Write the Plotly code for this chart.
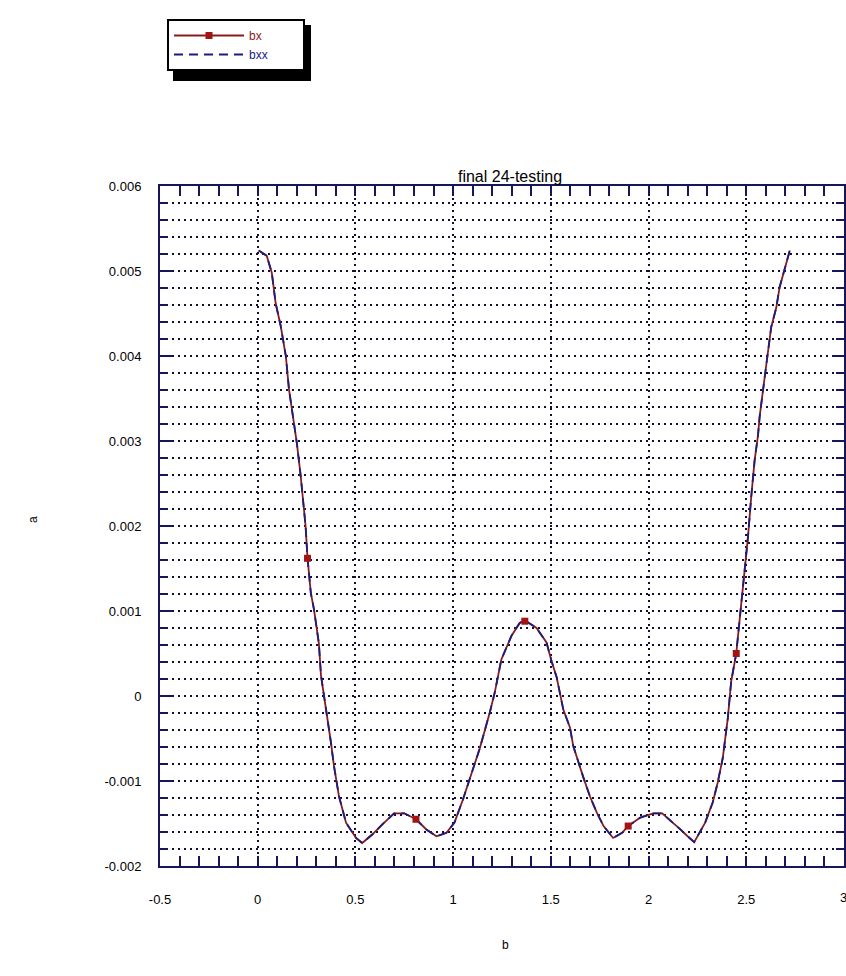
import plotly.graph_objects as go

# ---- data ----
x_vals = [0.005, 0.046, 0.072, 0.092, 0.118, 0.144, 0.16, 0.175, 0.20, 0.22, 0.245, 0.255,
          0.272, 0.288, 0.313, 0.324, 0.35, 0.375, 0.39, 0.416, 0.452, 0.503, 0.535, 0.586,
          0.638, 0.698, 0.75, 0.81, 0.863, 0.915, 0.966, 1.007, 1.05, 1.101, 1.136, 1.187,
          1.213, 1.247, 1.299, 1.341, 1.367, 1.427, 1.478, 1.504, 1.53, 1.564, 1.598, 1.615,
          1.64, 1.667, 1.70, 1.735, 1.77, 1.819, 1.865, 1.896, 1.958, 2.025, 2.07, 2.127,
          2.163, 2.20, 2.234, 2.29, 2.329, 2.354, 2.38, 2.406, 2.423, 2.449, 2.466, 2.491,
          2.509, 2.526, 2.543, 2.56, 2.569, 2.603, 2.628, 2.654, 2.671, 2.723]
y_vals = [0.00524, 0.00518, 0.00498, 0.00462, 0.00435, 0.00400, 0.00361, 0.00339, 0.00298,
          0.00259, 0.00200, 0.00162, 0.00121, 0.00102, 0.00062, 0.00024, -0.00015, -0.00055,
          -0.00082, -0.00118, -0.00149, -0.00167, -0.00173, -0.00163, -0.00151, -0.00138,
          -0.00138, -0.00145, -0.00157, -0.00165, -0.00161, -0.00149, -0.00122, -0.00086,
          -0.00062, -0.00020, 0.00004, 0.00043, 0.00071, 0.00086, 0.00089, 0.00080, 0.00063,
          0.00041, 0.00022, -0.00016, -0.00037, -0.00059, -0.00078, -0.00096, -0.00118,
          -0.00137, -0.00153, -0.00167, -0.00161, -0.00153, -0.00143, -0.00138, -0.00138,
          -0.00149, -0.00157, -0.00165, -0.00172, -0.00149, -0.00125, -0.00102, -0.00073,
          -0.00026, 0.00017, 0.00050, 0.00090, 0.00140, 0.00187, 0.00235, 0.00277, 0.00306,
          0.00329, 0.00390, 0.00434, 0.00457, 0.00481, 0.00524]
marker_x = [0.255, 0.81, 1.367, 1.896, 2.449]
marker_y = [0.00162, -0.00145, 0.00088, -0.00153, 0.00050]

series_names = ["bx", "bxx"]
x_tick_vals = [-0.5, 0, 0.5, 1, 1.5, 2, 2.5, 3]
x_tick_text = ["-0.5", "0", "0.5", "1", "1.5", "2", "2.5", "3"]
y_tick_vals = [-0.002, -0.001, 0, 0.001, 0.002, 0.003, 0.004, 0.005, 0.006]
y_tick_text = ["-0.002", "-0.001", "0", "0.001", "0.002", "0.003", "0.004", "0.005", "0.006"]

title_text = "final 24-testing"
x_title = "b"
y_title = "a"

# ---- styling ----
W, H = 846, 976
ML, MR, MT, MB = 160, 2, 186, 110
PW, PH = W - ML - MR, H - MT - MB
RED = "#8b1a1a"
MRED = "#a01414"
BLUE = "#1c1c80"
AXC = "#16165a"
GRID = "#101030"
FONT = "Liberation Sans"
NB = "\u00a0"


def px_x(p):
    return (p - ML) / PW


def px_y(p):
    return (H - MB - p) / PH


fig = go.Figure()

# red solid series
fig.add_trace(go.Scatter(x=x_vals, y=y_vals, mode="lines",
                         line=dict(color=RED, width=1.8), showlegend=False, hoverinfo="skip"))
# blue dashed series
fig.add_trace(go.Scatter(x=x_vals, y=y_vals, mode="lines", name=series_names[1] + NB * 9,
                         line=dict(color=BLUE, width=1.8, dash="9px,6px"),
                         legendrank=2, showlegend=True))
# red markers
fig.add_trace(go.Scatter(x=marker_x, y=marker_y, mode="markers",
                         marker=dict(symbol="square", size=7, color=MRED),
                         showlegend=False))
# legend entry for red series
fig.add_trace(go.Scatter(x=[None], y=[None], mode="lines+markers",
                         name='<span style="color:%s">%s</span>' % (RED, series_names[0]),
                         line=dict(color=RED, width=1.8),
                         marker=dict(symbol="square", size=7, color=MRED),
                         legendrank=1, showlegend=True))

# legend shadow
lx0, ly0, lx1, ly1 = 167, 19, 303, 73
fig.add_shape(type="rect", xref="paper", yref="paper",
              x0=px_x(lx0 + 6), x1=px_x(lx1 + 8), y0=px_y(ly1 + 8), y1=px_y(ly0 + 6),
              fillcolor="black", line=dict(width=0), layer="above")

annotations = [
    dict(text=x_title, xref="paper", yref="paper", x=px_x(505), y=px_y(945),
         xanchor="center", yanchor="middle",
         showarrow=False, font=dict(family=FONT, size=12, color="black")),
    dict(text=y_title, xref="paper", yref="paper", x=px_x(33), y=px_y(520),
         xanchor="center", yanchor="middle",
         showarrow=False, textangle=-90, font=dict(family=FONT, size=12, color="black")),
    # last x tick label sits at the page edge (partly cut, as in the reference)
    dict(text=x_tick_text[-1], xref="x", yref="paper", x=x_tick_vals[-1], y=px_y(897),
         xanchor="center", yanchor="middle",
         showarrow=False, font=dict(family=FONT, size=13, color="black")),
]

fig.update_layout(
    width=W, height=H,
    margin=dict(l=ML, r=MR, t=MT, b=MB, autoexpand=False),
    paper_bgcolor="white", plot_bgcolor="white",
    font=dict(family=FONT, size=12, color="black"),
    title=dict(text=title_text, xref="paper", x=0.5 + 8 / PW, xanchor="center",
               yref="paper", y=1, yanchor="bottom", pad=dict(b=4),
               font=dict(family=FONT, size=16, color="black")),
    showlegend=True,
    legend=dict(xref="container", yref="container", x=lx0 / W, y=1 - ly0 / H,
                xanchor="left", yanchor="top", bgcolor="white", bordercolor="black",
                borderwidth=2, itemwidth=70, tracegroupgap=0,
                font=dict(family=FONT, size=12, color=BLUE)),
    xaxis=dict(range=[-0.5, 3.0005], tickmode="array", tickvals=x_tick_vals[:-1],
               ticktext=x_tick_text[:-1],
               showline=True, linecolor=AXC, linewidth=2, mirror="allticks",
               ticks="inside", ticklen=10, tickwidth=2, tickcolor=AXC,
               ticklabelstandoff=20,
               showgrid=True, gridcolor=GRID, gridwidth=2, griddash="2px,4px",
               zeroline=False,
               minor=dict(dtick=0.1, ticks="inside", ticklen=10, tickwidth=2, tickcolor=AXC,
                          showgrid=False),
               tickfont=dict(family=FONT, size=13, color="black")),
    yaxis=dict(range=[-0.002, 0.006], tickmode="array", tickvals=y_tick_vals, ticktext=y_tick_text,
               showline=True, linecolor=AXC, linewidth=2, mirror="allticks",
               ticks="inside", ticklen=12, tickwidth=2, tickcolor=AXC,
               ticklabelstandoff=14,
               showgrid=True, gridcolor=GRID, gridwidth=2, griddash="2px,4px",
               zeroline=False,
               minor=dict(dtick=0.0002, ticks="inside", ticklen=8, tickwidth=2, tickcolor=AXC,
                          showgrid=True, gridcolor=GRID, gridwidth=2, griddash="2px,4px"),
               tickfont=dict(family=FONT, size=13, color="black")),
    annotations=annotations,
)

fig.write_html("out.html", config={"displayModeBar": False},
               post_script="document.body.style.margin='0px';document.body.style.overflow='hidden';")
